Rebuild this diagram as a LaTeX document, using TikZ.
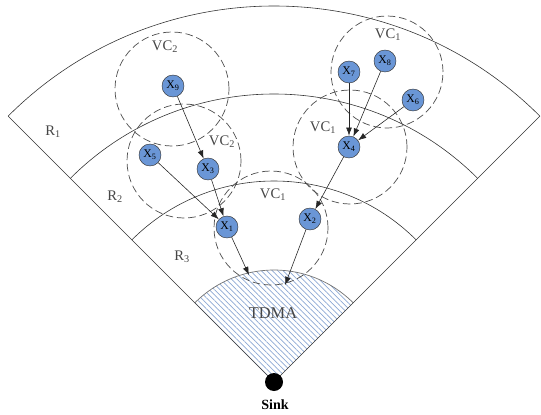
\documentclass[tikz,border=0pt]{standalone}
\usepackage{fontspec}
\setmainfont{Liberation Serif}
\usetikzlibrary{patterns.meta,arrows.meta}
\definecolor{nodeblue}{RGB}{106,150,214}
\definecolor{hatchblue}{RGB}{140,168,212}
\definecolor{txtgray}{RGB}{70,70,70}

\begin{document}
\begin{tikzpicture}[
            x=0.03cm, y=0.03cm,
            sensor/.style={draw=black!80, fill=nodeblue, circle, minimum size=0.66cm, inner sep=0pt, font=\fontsize{10}{10}\selectfont},
            vc/.style={draw=black!70, dash pattern=on 6.5pt off 3.2pt, line width=0.6pt},
            ring/.style={draw=black!80, line width=0.5pt},
            lbl/.style={text=txtgray, font=\fontsize{12.5}{14}\selectfont},
            link/.style={-{Latex[length=7pt,width=5pt]}, black!85, line width=0.5pt}]
        \useasboundingbox (0,0) rectangle (541,414);
        \coordinate (sink) at (274,32);
        \path[pattern={Lines[angle=-45, distance=3.3pt, line width=0.6pt]}, pattern color=hatchblue]
            (sink) -- ([shift={(sink)}]45:112) arc[start angle=45, end angle=135, radius=112] -- cycle;
        \draw[black!55, line width=0.6pt]
            ([shift={(sink)}]45:112) arc[start angle=45, end angle=135, radius=112];
        \draw[ring] ([shift={(sink)}]135:376) -- (sink) -- ([shift={(sink)}]45:376);
        \foreach \r in {201,288,376}
            \draw[ring] ([shift={(sink)}]45:\r) arc[start angle=45, end angle=135, radius=\r];
        \fill[black] (sink) circle[radius=9];
        \node[font=\bfseries\fontsize{12}{14}\selectfont] (sinklabel) at (275,9) {Sink};
        \node[lbl, font=\fontsize{14}{16}\selectfont] (tdma) at (273,101) {TDMA};

        \node[lbl] (r1) at (53,282) {R\textsubscript{1}};
        \node[lbl] (r2) at (115,217) {R\textsubscript{2}};
        \node[lbl] (r3) at (182,157) {R\textsubscript{3}};

        \draw[vc] (172,325) circle[radius=57];
        \draw[vc] (387,342) circle[radius=56];
        \draw[vc] (350,267) circle[radius=57];
        \draw[vc] (184,253) circle[radius=57];
        \draw[vc] (271,186) circle[radius=57];
        \node[lbl] (vc2top) at (165,367) {VC\textsubscript{2}};
        \node[lbl] (vc1top) at (388,379) {VC\textsubscript{1}};
        \node[lbl] (vc1mid) at (323,286) {VC\textsubscript{1}};
        \node[lbl] (vc2mid) at (222,272) {VC\textsubscript{2}};
        \node[lbl] (vc1low) at (273,219) {VC\textsubscript{1}};

        \node[sensor] (x9) at (173,328) {X\textsubscript{9}};
        \node[sensor] (x7) at (349,342) {X\textsubscript{7}};
        \node[sensor] (x8) at (385,353) {X\textsubscript{8}};
        \node[sensor] (x6) at (413,314) {X\textsubscript{6}};
        \node[sensor] (x4) at (349,267) {X\textsubscript{4}};
        \node[sensor] (x5) at (150,259) {X\textsubscript{5}};
        \node[sensor] (x3) at (208,245) {X\textsubscript{3}};
        \node[sensor] (x1) at (227,187) {X\textsubscript{1}};
        \node[sensor] (x2) at (310,195) {X\textsubscript{2}};
        \coordinate (t1) at (249,139);
        \coordinate (t2) at (285,129);

        \draw[link] (x9) -- (x3);
        \draw[link] (x7) -- (x4);
        \draw[link] (x8) -- (x4);
        \draw[link] (x6) -- (x4);
        \draw[link] (x5) -- (x1);
        \draw[link] (x3) -- (x1);
        \draw[link] (x4) -- (x2);
        \draw[link] (x1) -- (t1);
        \draw[link] (x2) -- (t2);
\end{tikzpicture}
\end{document}
